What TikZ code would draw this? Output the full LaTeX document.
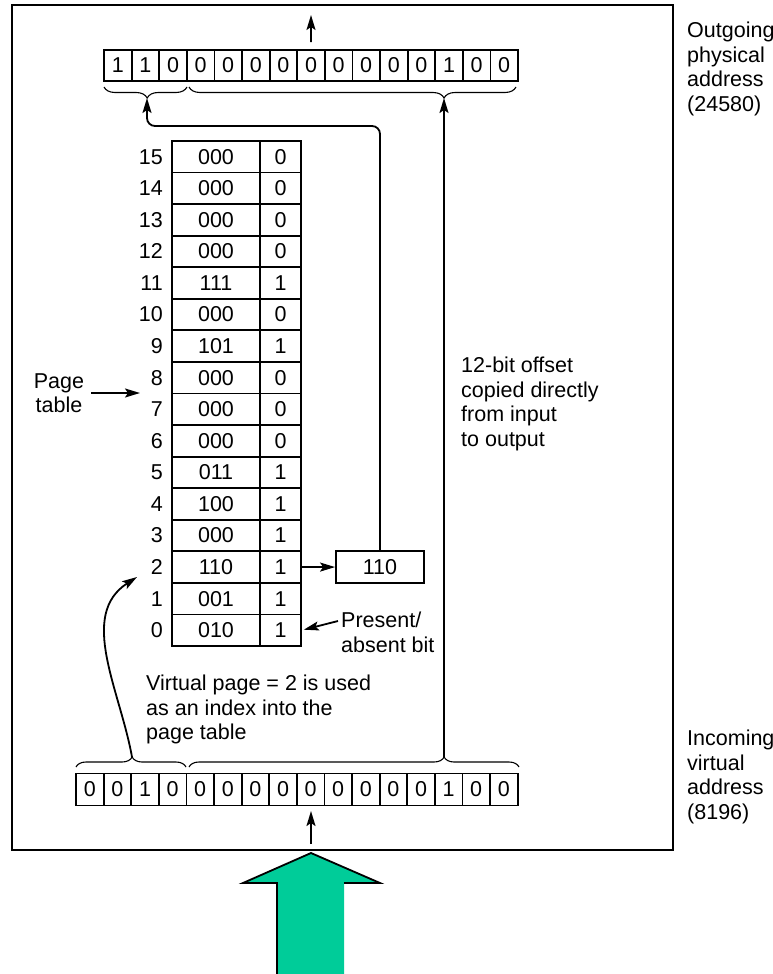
\documentclass[tikz,border=0pt]{standalone}
\usepackage{fontspec}
\setmainfont{Liberation Sans}
\usetikzlibrary{arrows.meta,decorations.pathreplacing}
\definecolor{arrowgreen}{RGB}{0,204,153}
\begin{document}
\begin{tikzpicture}[x=1pt,y=-1pt,
  font=\fontsize{21.5}{24.5}\selectfont,
  cell/.style={draw, line width=1.8pt, minimum width=27.6pt, minimum height=31pt, inner sep=0pt, anchor=center},
  pcell/.style={draw, line width=1.8pt, minimum height=31.56pt, inner sep=0pt, anchor=center},
  lbl/.style={inner sep=0pt, align=left, anchor=north west},
  arr/.style={-{Stealth[length=15pt,width=9pt,inset=3pt]}, line width=1.8pt},
  bracestyle/.style={decorate, line width=1.1pt},
]
\useasboundingbox (0,0) rectangle (773,974);
% frame
\draw[line width=2.2pt] (12,5) rectangle (673,850);

% top register
\foreach \v [count=\k] in {1,1,0,0,0,0,0,0,0,0,0,0,1,0,0}
  \node[cell] (t\k) at ({104+27.6*(\k-0.5)},65.5) {\v};
% bottom register
\foreach \v [count=\k] in {0,0,1,0,0,0,0,0,0,0,0,0,0,1,0,0}
  \node[cell, minimum height=32pt] (b\k) at ({76+27.6*(\k-0.5)},789.5) {\v};

% page table
\foreach \i/\f/\b in {15/000/0,14/000/0,13/000/0,12/000/0,11/111/1,10/000/0,9/101/1,8/000/0,7/000/0,6/000/0,5/011/1,4/100/1,3/000/1,2/110/1,1/001/1,0/010/1}{
  \node[pcell, minimum width=88pt] (pf\i) at (216,{141+(15.5-\i)*31.56}) {\f};
  \node[pcell, minimum width=41pt] (pb\i) at (280.5,{141+(15.5-\i)*31.56}) {\b};
  \node[anchor=east, inner sep=0pt] (pl\i) at (163,{141+(15.5-\i)*31.56}) {\i};
}

% 110 box
\node[draw, line width=1.8pt, minimum width=88pt, minimum height=31.56pt, inner sep=0pt] (pbox) at (380,{141+13.5*31.56}) {110};
\draw[arr] (pb2.east) -- (pbox.west);

% braces
\coordinate (tlb) at (147,98);
\coordinate (trb) at (444,98);
\coordinate (blb) at (132,757);
\coordinate (brb) at (444,757);
\draw[bracestyle, decoration={brace, amplitude=11pt, aspect=0.48}] (187,87) -- (104,87);
\draw[bracestyle, decoration={brace, amplitude=11pt, aspect=0.22}] (516,87) -- (189,87);
\draw[bracestyle, decoration={brace, amplitude=10pt, aspect=0.51}] (76,767) -- (186,767);
\draw[bracestyle, decoration={brace, amplitude=10pt, aspect=0.773}] (189,767) -- (519,767);

% arrows
\coordinate (bend) at (147,126);
\draw[arr, rounded corners=8pt] (pbox.north) |- (bend) -- (tlb);
\draw[arr] (brb) -- (trb);
\coordinate (pg2) at (137,577);
\draw[arr] (blb) .. controls (120,690) and (78,615) .. (pg2);

\coordinate (outend) at (311,15);
\draw[arr] ([yshift=7pt]t8.north) -- (outend);
\coordinate (inend) at (311,811);
\coordinate (instart) at (311,844);
\draw[arr] (instart) -- (inend);

% labels
\node[inner sep=0pt, align=center] (ptlabel) at (59,393) {Page\\table};
\coordinate (ptarr) at (140,393);
\draw[arr] ([xshift=7pt]ptlabel.east) -- (ptarr);

\node[lbl] (present) at (341,612) {Present/\\absent bit};
\coordinate (pa) at (338,621);
\draw[arr, shorten >=2pt] (pa) -- (pb0.east);

\node[lbl] (virt) at (146,675) {Virtual page = 2 is used\\as an index into the\\page table};
\node[lbl] (offset) at (461,357) {12-bit offset\\copied directly\\from input\\to output};
\node[lbl] (outg) at (687,22) {Outgoing\\physical\\address\\(24580)};
\node[lbl] (incm) at (687,730) {Incoming\\virtual\\address\\(8196)};

% green arrow
\fill[arrowgreen] (277,980) -- (277,883) -- (243,883) -- (311,853) -- (380,883) -- (344,883) -- (344,980) -- cycle;
\draw[line width=1.8pt] (277,980) -- (277,883) -- (243,883) -- (311,853) -- (380,883) -- (344,883);
\end{tikzpicture}
\end{document}
